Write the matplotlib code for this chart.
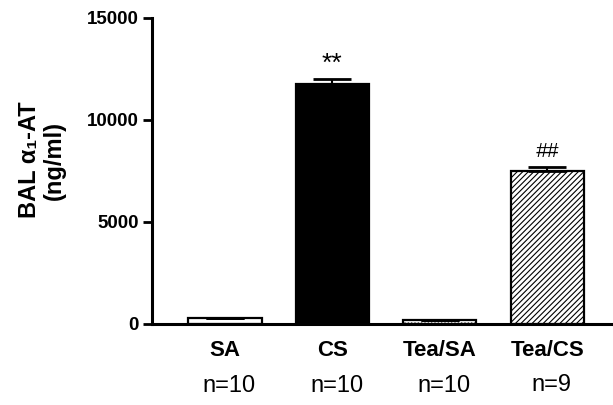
import matplotlib
matplotlib.use("Agg")
import matplotlib.pyplot as plt
import numpy as np

plt.rcParams['font.family'] = ['Liberation Sans', 'DejaVu Sans']
plt.rcParams['hatch.linewidth'] = 0.8

# data
groups = ["SA", "CS", "Tea/SA", "Tea/CS"]
n_labels = ["n=10", "n=10", "n=10", "n=9"]
means = [280, 11780, 180, 7480]
sem = [30, 240, 20, 220]
marks = ["", "**", "", "##"]
y_ticks = [0, 5000, 10000, 15000]

fig = plt.figure(figsize=(6.13, 4.05), dpi=100)
ax = fig.add_axes([0.248, 0.2, 0.75, 0.7556])

x = np.arange(len(groups))
faces = ['white', 'black', 'white', 'white']
hatches = [None, None, '.....', '//////']
bars = ax.bar(x, means, width=0.68, color=faces, edgecolor='black', linewidth=1.6)
for b, h in zip(bars, hatches):
    if h:
        b.set_hatch(h)

ax.errorbar(x, means, yerr=[[0] * 4, sem], fmt='none', ecolor='black',
            elinewidth=1.5, capsize=13.5, capthick=2)

for xi, m, s, t in zip(x, means, sem, marks):
    if t == "**":
        ax.text(xi, m + s + 150, t, ha='center', va='bottom', fontsize=19)
    elif t:
        ax.text(xi, m + s + 300, t, ha='center', va='bottom', fontsize=15, style='italic')

ax.set_xlim(-0.679, 3.6)
ax.set_ylim(0, 15000)
ax.set_yticks(y_ticks)
ax.set_yticklabels([str(v) for v in y_ticks], fontsize=13.5, fontweight='bold')
ax.set_xticks([])

for xi, g in zip(x, groups):
    ax.text(xi, -0.086, g, transform=ax.get_xaxis_transform(), ha='center', va='center',
            fontsize=16, fontweight='bold')
for xi, n in zip(x, n_labels):
    yy = -0.198 if n == "n=9" else -0.203
    ax.text(xi + 0.04, yy, n, transform=ax.get_xaxis_transform(), ha='center', va='center',
            fontsize=17)

ax.spines['top'].set_visible(False)
ax.spines['right'].set_visible(False)
ax.spines['left'].set_linewidth(2.2)
ax.spines['bottom'].set_linewidth(2.2)
ax.tick_params(axis='y', length=6.5, width=2, pad=3)

fig.text(42 / 613, 1 - 160 / 405, "BAL α\u2081-AT\n(ng/ml)", rotation=90, ha='center',
         va='center', fontsize=17, fontweight='bold', linespacing=1.12)

fig.savefig("out.png", dpi=100)
plt.close(fig)
